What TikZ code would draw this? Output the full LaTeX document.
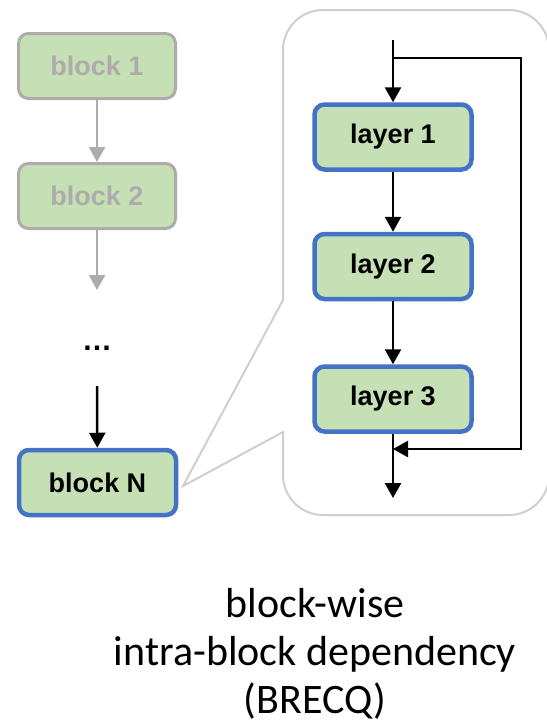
\documentclass[tikz,border=0pt]{standalone}
\usepackage{fontspec}
\setmainfont{Liberation Sans}
\newfontfamily\captionfont{Carlito}
\usepackage{tikz}
\usetikzlibrary{arrows.meta}
\usetikzlibrary{calc}
\usetikzlibrary{positioning}

\definecolor{boxgreen}{HTML}{C5E0B4}
\definecolor{boxblue}{HTML}{4472C4}
\definecolor{fadegray}{HTML}{AFABAB}
\definecolor{calloutgray}{HTML}{D0CECE}

\begin{document}
\begin{tikzpicture}[x=1pt,y=-1pt,
    unit/.style={draw,rectangle,rounded corners=10pt,fill=boxgreen,
      minimum width=157pt,minimum height=65pt,inner sep=0pt,
      font=\fontsize{27}{32}\selectfont\bfseries},
    faded/.style={unit,draw=fadegray,line width=3pt,text=fadegray},
    active/.style={unit,draw=boxblue,line width=4.5pt},
    flow/.style={line width=2.5pt,-{Triangle[length=15pt,width=16pt]}}]
  \useasboundingbox (0,0) rectangle (547,724);

  % callout around the inner view of block N
  \draw [calloutgray,line width=2pt]
    (183,486) -- (283,300) [rounded corners=40pt] -- (283,10) -- (549,10)
    -- (549,515) -- (283,515) [sharp corners] -- (283,432) -- cycle;

  % stack of blocks
  \node [faded] (block1) at (97,66) {block 1};
  \node [faded] (block2) at (97,196) {block 2};
  \coordinate (fade_end) at (97,290);
  \node [anchor=base,font=\fontsize{30}{36}\selectfont\bfseries] (dots) at (97,350) {\dots};
  \coordinate (n_start) at (97,386);
  \node [active] (blockN) at (97.5,482.5) {block N};

  \path [fadegray]
    (block1) edge [flow] (block2)
    (block2) edge [flow] (fade_end);
  \path
    (n_start) edge [flow] (blockN);

  % layers inside block N
  \node [active] (layer1) at (393,137) {layer 1};
  \node [active] (layer2) at (393,266.5) {layer 2};
  \node [active] (layer3) at (393,399) {layer 3};

  \coordinate (in) at (393,40);
  \coordinate (skip_from) at (393,58);
  \coordinate (skip_top) at (521,58);
  \coordinate (skip_bot) at (521,449);
  \coordinate (skip_to) at (393,449);
  \coordinate (out) at (393,498);

  \path
    (in) edge [flow] (layer1)
    (layer1) edge [flow] (layer2)
    (layer2) edge [flow] (layer3)
    (layer3) edge [flow] (out);
  \draw [flow] (skip_from) -- (skip_top) -- (skip_bot) -- (skip_to);

  \node [align=center,font=\captionfont\fontsize{42}{48}\selectfont] (caption) at (315,654)
    {block-wise\\intra-block dependency\\(BRECQ)};
\end{tikzpicture}
\end{document}
